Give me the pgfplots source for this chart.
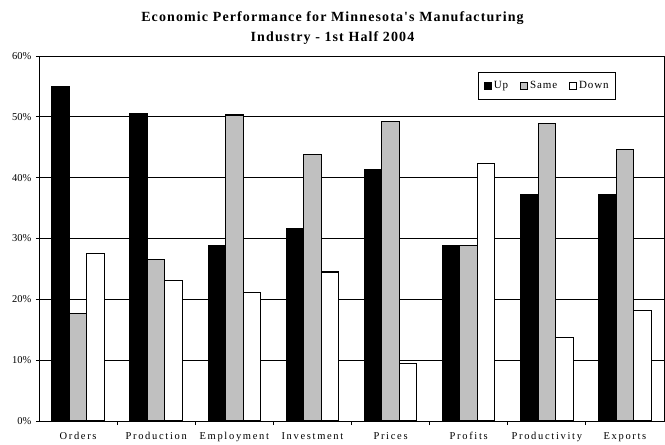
\documentclass[border=0pt]{standalone}
\usepackage{pgfplots}
\pgfplotsset{compat=1.18}
\usepackage{fontspec}
\setmainfont{Liberation Serif}
\definecolor{samegray}{RGB}{192,192,192}
\begin{document}
\begin{tikzpicture}
\path[use as bounding box] (0,0) rectangle (665bp,445bp);
\begin{axis}[
  at={(39bp,24bp)}, anchor=south west,
  scale only axis, width=625bp, height=365bp,
  ybar=0pt, bar width=17.5bp,
  xmin=-0.5, xmax=7.5, ymin=0, ymax=60,
  xtick={0,...,7},
  xticklabels={Orders,Production,Employment,Investment,Prices,Profits,Productivity,Exports},
  xticklabel style={font=\fontsize{10.5bp}{12bp}\selectfont\addfontfeatures{LetterSpace=16}, yshift=-5bp},
  major x tick style={draw=none},
  minor xtick={0.5,1.5,...,6.5},
  minor tick length=4bp,
  ytick={0,10,...,60},
  yticklabel={\pgfmathprintnumber{\tick}\%},
  yticklabel style={font=\fontsize{10.5bp}{12bp}\selectfont, xshift=-1bp},
  /pgf/number format/assume math mode=true,
  major tick length=3bp,
  tick align=outside,
  tick style={black, line width=0.8bp},
  ytick pos=left, xtick pos=bottom,
  ymajorgrids, grid style={black, line width=0.7bp},
  axis line style={black, line width=0.9bp},
  title={Economic Performance for Minnesota's Manufacturing\\Industry - 1st Half 2004},
  title style={font=\fontsize{14bp}{20bp}\selectfont\bfseries\addfontfeatures{LetterSpace=8,Ligatures=TeXOff}, align=center, at={(0.5,1)}, anchor=south, yshift=2bp, xshift=-19bp},
  legend style={at={(0.703,0.956)}, anchor=north west, draw=black, line width=0.8bp,
    font=\fontsize{11bp}{13bp}\selectfont\addfontfeatures{LetterSpace=8}, legend columns=3,
    /tikz/every even column/.append style={column sep=10bp}, inner xsep=5bp, inner ysep=7bp},
  legend image code/.code={\draw[#1,draw=black,line width=1bp] (0bp,-3.5bp) rectangle (7bp,3.5bp);},
  every axis plot/.append style={draw=black, line width=1.1bp},
]
\addplot[fill=black] coordinates {(0,55.0) (1,50.6) (2,28.8) (3,31.7) (4,41.3) (5,28.8) (6,37.3) (7,37.3)};
\addplot[fill=samegray] coordinates {(0,17.6) (1,26.5) (2,50.3) (3,43.8) (4,49.2) (5,28.8) (6,48.9) (7,44.6)};
\addplot[fill=white] coordinates {(0,27.6) (1,23.1) (2,21.1) (3,24.5) (4,9.5) (5,42.3) (6,13.7) (7,18.1)};
\legend{Up,Same,Down}
\end{axis}
\end{tikzpicture}
\end{document}
